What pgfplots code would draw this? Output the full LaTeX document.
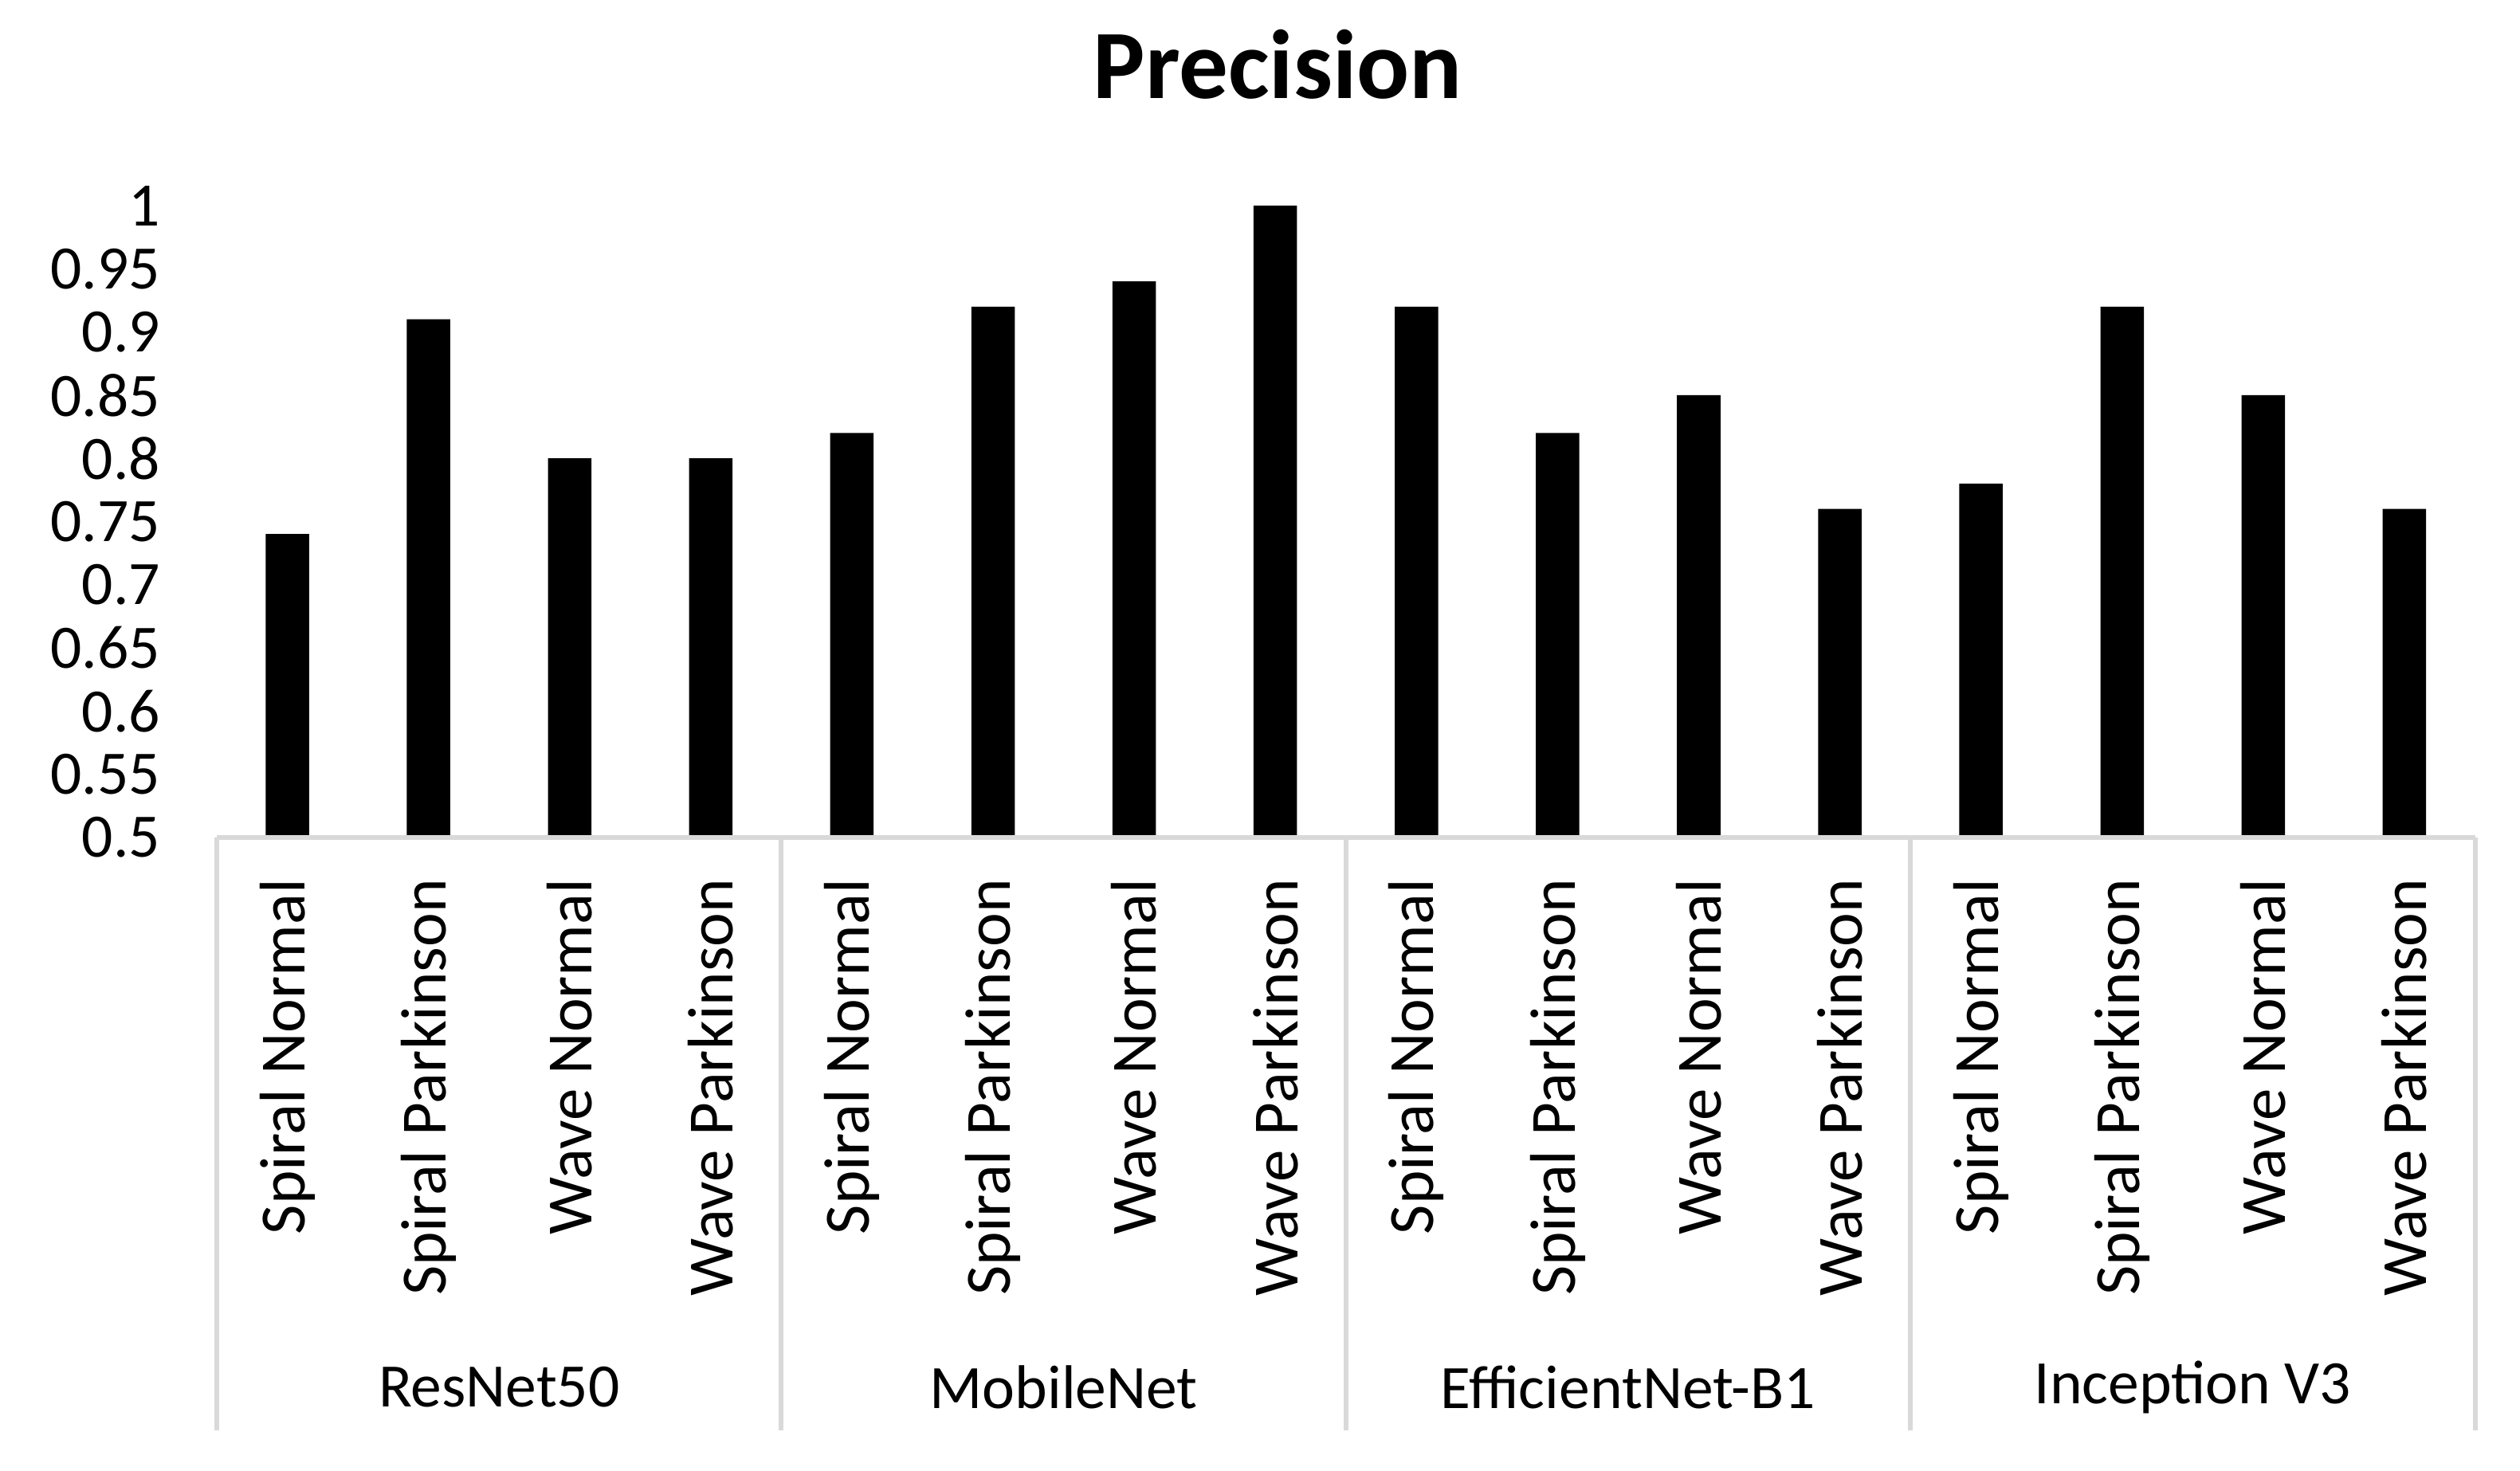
\documentclass[border=0pt]{standalone}
\usepackage{pgfplots}
\pgfplotsset{compat=1.18}
\usepackage{fontspec}
\setmainfont{Carlito}
\definecolor{sepgray}{HTML}{D9D9D9}
\begin{document}
\begin{tikzpicture}
\useasboundingbox (-54.4pt,-158.9pt) rectangle (577.9pt,210.1pt);
\begin{axis}[
  at={(0,0)}, anchor=south west,
  scale only axis,
  width=566.6pt, height=158.5pt,
  xmin=-0.5, xmax=15.5,
  ymin=0.5, ymax=1,
  ybar, bar width=10.9pt,
  axis line style={draw=none},
  tick style={draw=none},
  clip=false,
  xtick={0,1,...,15},
  xticklabels={Spiral Normal,Spiral Parkinson,Wave Normal,Wave Parkinson,Spiral Normal,Spiral Parkinson,Wave Normal,Wave Parkinson,Spiral Normal,Spiral Parkinson,Wave Normal,Wave Parkinson,Spiral Normal,Spiral Parkinson,Wave Normal,Wave Parkinson},
  xticklabel style={rotate=90, anchor=east, inner sep=0pt, font=\fontsize{16.2}{19}\selectfont},
  xticklabel shift=6pt,
  ytick={0.5,0.55,0.6,0.65,0.7,0.75,0.8,0.85,0.9,0.95,1},
  yticklabels={0.5,0.55,0.6,0.65,0.7,0.75,0.8,0.85,0.9,0.95,1},
  yticklabel style={anchor=east, inner sep=0pt, font=\fontsize{15.5}{18}\selectfont},
  yticklabel shift=14pt,
]
\addplot[fill=black, draw=none] coordinates {
  (0,0.74) (1,0.91) (2,0.80) (3,0.80)
  (4,0.82) (5,0.92) (6,0.94) (7,1.00)
  (8,0.92) (9,0.82) (10,0.85) (11,0.76)
  (12,0.78) (13,0.92) (14,0.85) (15,0.76)
};
\draw[sepgray, line width=1.2pt] (axis cs:-0.5,0.5) -- (axis cs:15.5,0.5);
\pgfplotsinvokeforeach{-0.5,3.5,7.5,11.5,15.5}{
  \draw[sepgray, line width=1.2pt] (axis cs:#1,0.5) -- ([yshift=-148.8pt]axis cs:#1,0.5);
}
\node[font=\fontsize{15.5}{18}\selectfont] at ([yshift=-138pt]axis cs:1.5,0.5) {ResNet50};
\node[font=\fontsize{15.5}{18}\selectfont] at ([yshift=-138pt]axis cs:5.5,0.5) {MobileNet};
\node[font=\fontsize{15.5}{18}\selectfont] at ([yshift=-138pt]axis cs:9.5,0.5) {EfficientNet-B1};
\node[font=\fontsize{15.5}{18}\selectfont] at ([yshift=-138pt]axis cs:13.5,0.5) {Inception V3};
\end{axis}
\node[font=\bfseries\fontsize{24.6}{29}\selectfont] at (266.2pt,194pt) {Precision};
\end{tikzpicture}
\end{document}
